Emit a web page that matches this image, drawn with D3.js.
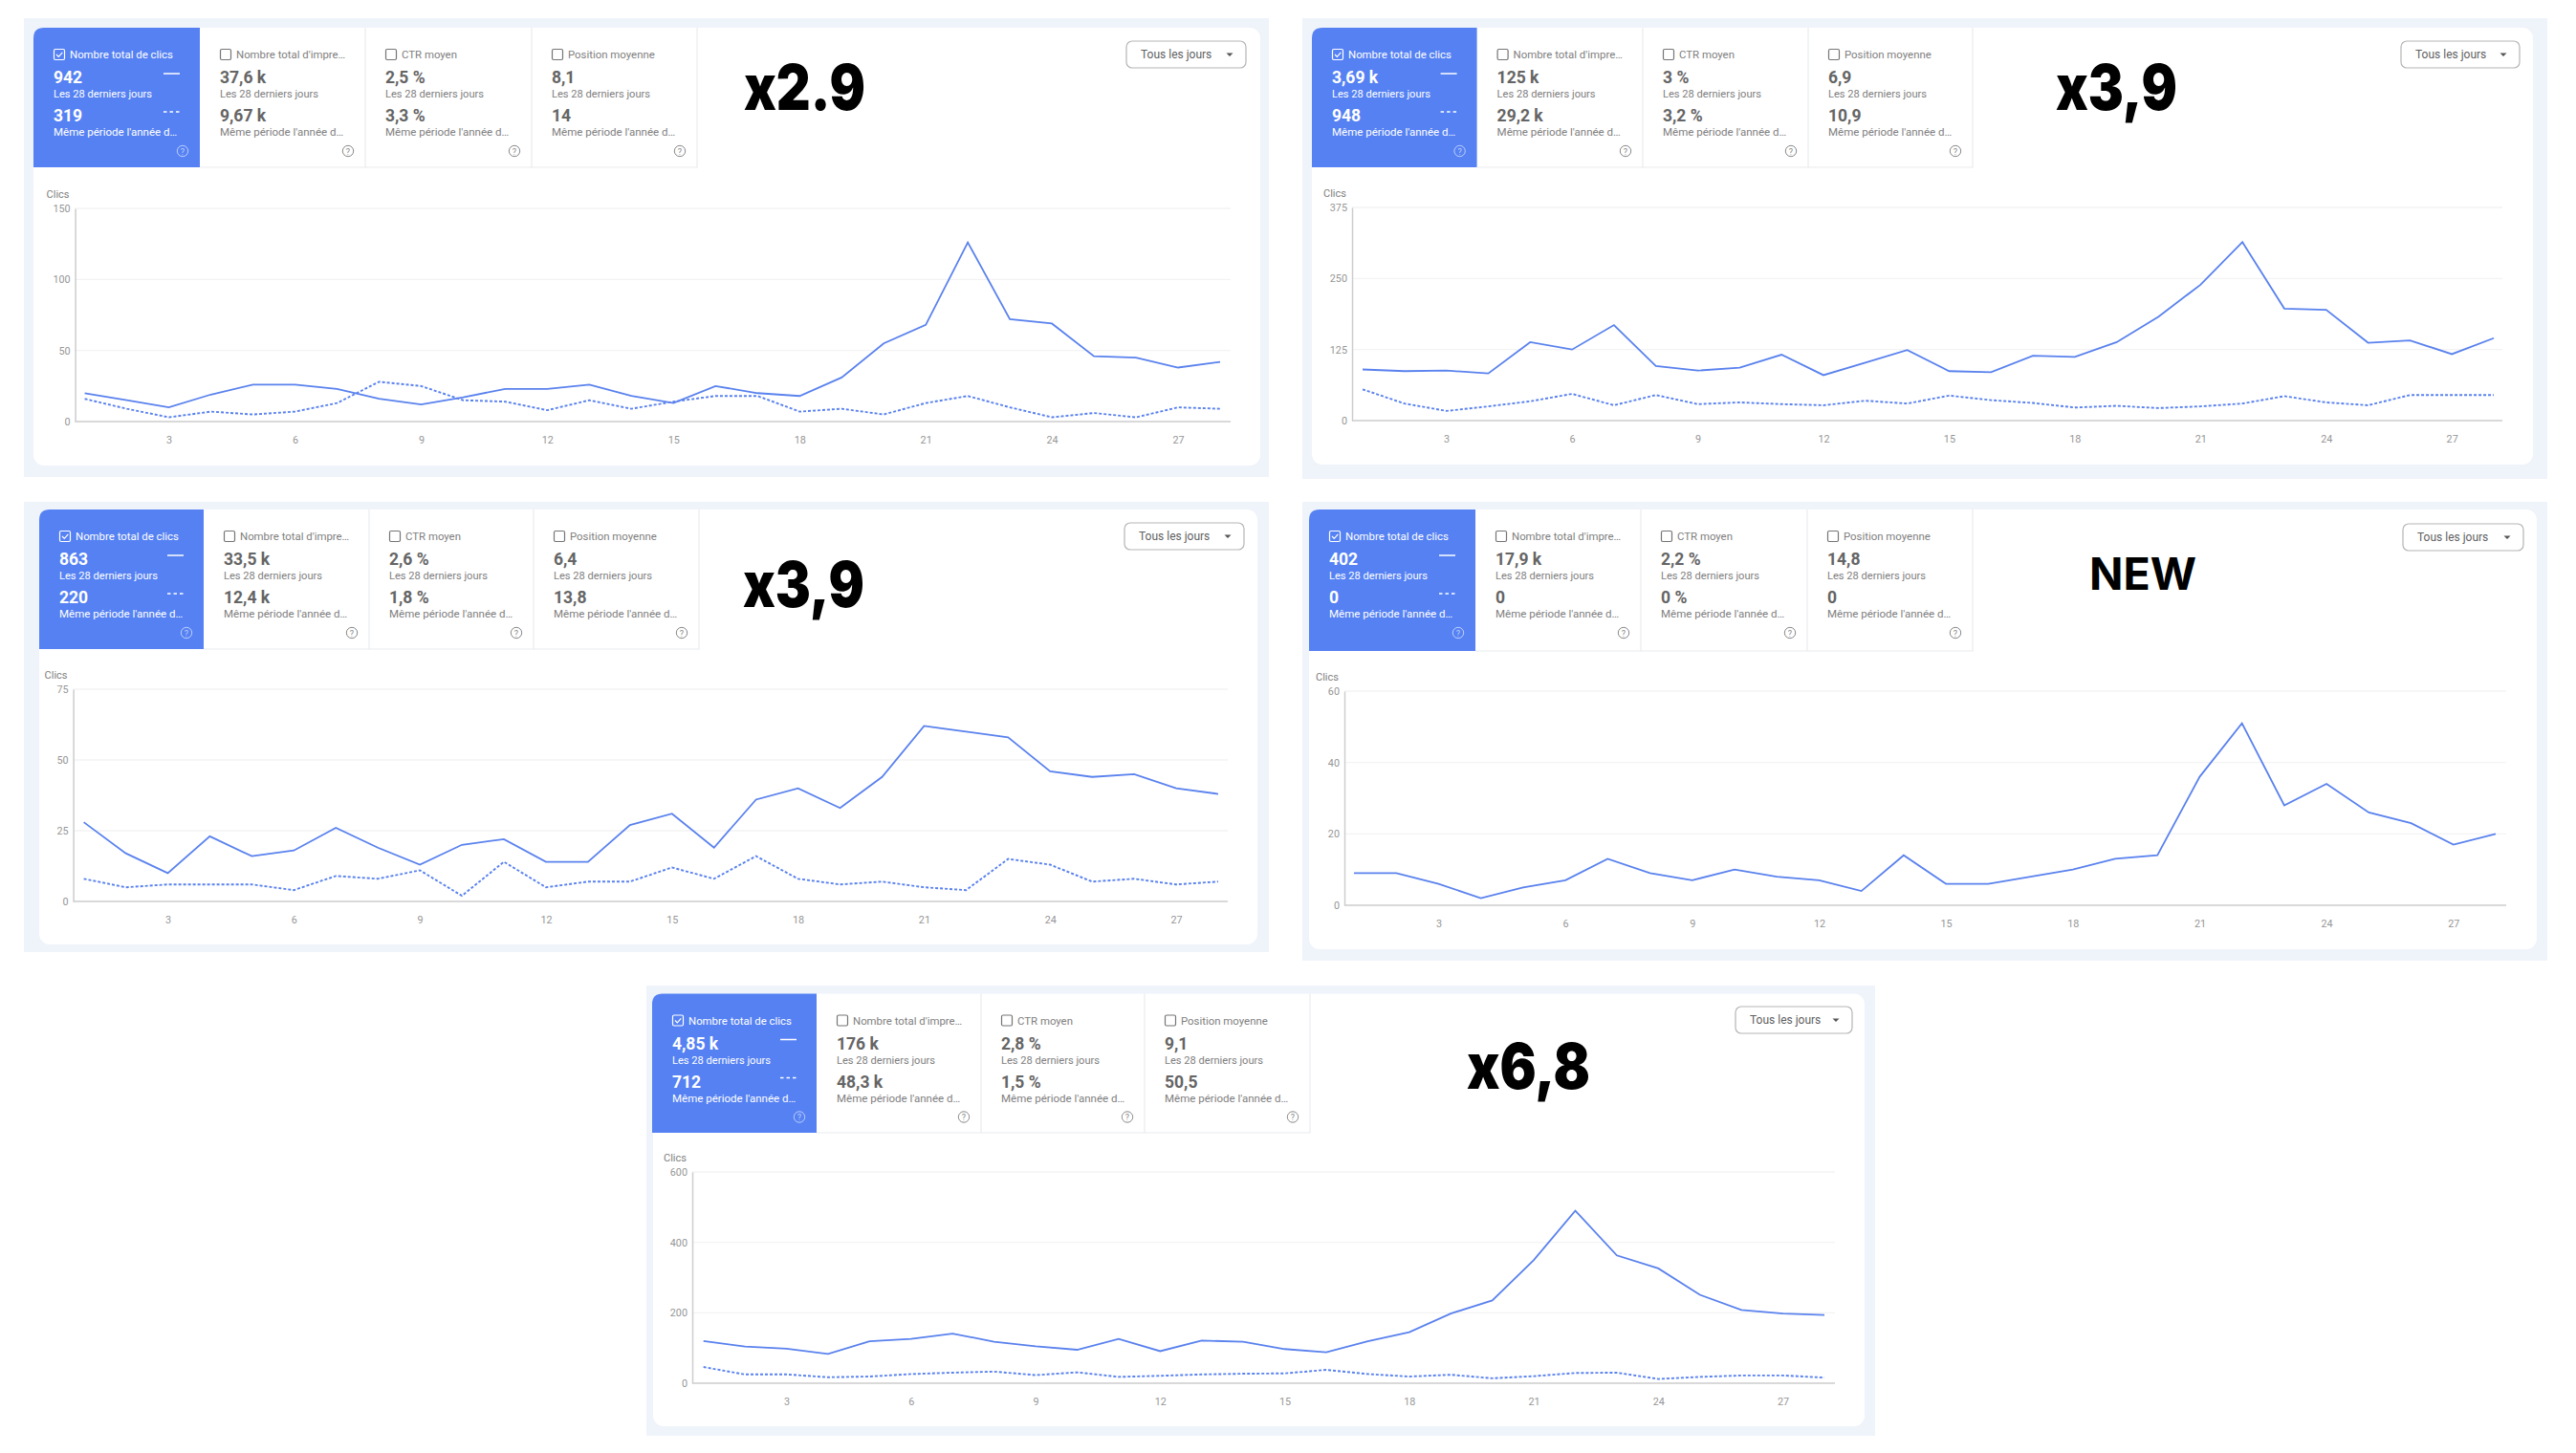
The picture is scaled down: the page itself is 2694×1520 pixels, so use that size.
<!DOCTYPE html>
<html lang="fr">
<head>
<meta charset="utf-8">
<title>Clics</title>
<script src="https://cdn.jsdelivr.net/npm/d3@7"></script>
<style>
  html, body { margin: 0; padding: 0; background: #fff; }
  svg { display: block; font-family: Roboto, sans-serif; }
  .axis text { fill: #969696; font-size: 10.8px; font-family: Roboto, sans-serif; }
  .axis .domain { stroke: #cdcdcd; stroke-width: 1.5; }
  .axis .tick line { display: none; }
  .grid line { stroke: #f3f3f3; stroke-width: 1.3; }
</style>
</head>
<body>
<svg width="2694" height="1520"></svg>
<script>
const days = [1, 2, 3, 4, 5, 6, 7, 8, 9, 10, 11, 12, 13, 14, 15, 16, 17, 18, 19, 20, 21, 22, 23, 24, 25, 26, 27, 28];
const xTicks = [3, 6, 9, 12, 15, 18, 21, 24, 27];
const metricNames = ["Nombre total de clics", "Nombre total d'impre…", "CTR moyen", "Position moyenne"];
const periodNow = "Les 28 derniers jours";
const periodPrev = "Même période l'année d…";
const yLabel = "Clics";
const rangeLabel = "Tous les jours";

const badges = ["x2.9", "x3,9", "x3,9", "NEW", "x6,8"];

const yTicks1 = [0, 50, 100, 150];
const yTicks2 = [0, 125, 250, 375];
const yTicks3 = [0, 25, 50, 75];
const yTicks4 = [0, 20, 40, 60];
const yTicks5 = [0, 200, 400, 600];

const stats1 = [["942", "319"], ["37,6 k", "9,67 k"], ["2,5 %", "3,3 %"], ["8,1", "14"]];
const stats2 = [["3,69 k", "948"], ["125 k", "29,2 k"], ["3 %", "3,2 %"], ["6,9", "10,9"]];
const stats3 = [["863", "220"], ["33,5 k", "12,4 k"], ["2,6 %", "1,8 %"], ["6,4", "13,8"]];
const stats4 = [["402", "0"], ["17,9 k", "0"], ["2,2 %", "0 %"], ["14,8", "0"]];
const stats5 = [["4,85 k", "712"], ["176 k", "48,3 k"], ["2,8 %", "1,5 %"], ["9,1", "50,5"]];

const current1 = [20, 15, 10, 19, 26, 26, 23, 16, 12, 17, 23, 23, 26, 18, 13, 25, 20, 18, 31, 55, 68, 126, 72, 69, 46, 45, 38, 42];
const previous1 = [16, 9, 3, 7, 5, 7, 13, 28, 25, 15, 14, 8, 15, 9, 14, 18, 18, 7, 9, 5, 13, 18, 10, 3, 6, 3, 10, 9];
const current2 = [90, 87, 88, 83, 138, 125, 168, 96, 88, 93, 116, 80, 102, 124, 87, 85, 114, 112, 138, 183, 239, 314, 197, 195, 137, 141, 117, 145];
const previous2 = [55, 30, 17, 25, 34, 47, 27, 45, 29, 32, 29, 27, 35, 30, 44, 36, 31, 23, 26, 22, 25, 30, 43, 32, 27, 45, 45, 45];
const current3 = [28, 17, 10, 23, 16, 18, 26, 19, 13, 20, 22, 14, 14, 27, 31, 19, 36, 40, 33, 44, 62, 60, 58, 46, 44, 45, 40, 38];
const previous3 = [8, 5, 6, 6, 6, 4, 9, 8, 11, 2, 14, 5, 7, 7, 12, 8, 16, 8, 6, 7, 5, 4, 15, 13, 7, 8, 6, 7];
const current4 = [9, 9, 6, 2, 5, 7, 13, 9, 7, 10, 8, 7, 4, 14, 6, 6, 8, 10, 13, 14, 36, 51, 28, 34, 26, 23, 17, 20];
const current5 = [120, 104, 98, 83, 119, 126, 141, 118, 105, 95, 126, 91, 121, 118, 97, 88, 119, 145, 198, 235, 350, 490, 363, 326, 251, 208, 198, 194];
const previous5 = [46, 25, 25, 17, 19, 26, 30, 33, 23, 31, 18, 21, 25, 27, 28, 38, 26, 19, 24, 14, 20, 29, 30, 12, 18, 22, 22, 16];

const blue = "#5581f3", lineBlue = "#5a82ee", pageBg = "#eff3fa";
const valueCol = "#656565", smallCol = "#808080";

// pixel layout of each dashboard screenshot on the collage
const panels = [
  { stats: stats1, current: current1, previous: previous1, yTicks: yTicks1, badge: badges[0],
    bg: [25, 19, 1327, 499], card: [35, 29, 1318, 487], tiles: [35, 209, 382, 556, 729], tileBottom: 175,
    plot: { left: 78.6, right: 1287, top: 218, bottom: 441, day1: 88.6, day28: 1276 },
    drop: [1178, 43, 1303, 71], badgeAt: [778, 115], badgeSize: 66, badgeW: 127, badgeWeight: 900 },
  { stats: stats2, current: current2, previous: previous2, yTicks: yTicks2, badge: badges[1],
    bg: [1362, 19, 2664, 501], card: [1372, 29, 2649, 486], tiles: [1372, 1544.6, 1718, 1891, 2063], tileBottom: 175,
    plot: { left: 1414, right: 2617, top: 217, bottom: 440, day1: 1425, day28: 2608 },
    drop: [2511, 43, 2635, 71], badgeAt: [2150, 115], badgeSize: 66, badgeW: 127, badgeWeight: 900 },
  { stats: stats3, current: current3, previous: previous3, yTicks: yTicks3, badge: badges[2],
    bg: [25, 525, 1327, 996], card: [41, 533, 1315, 988], tiles: [41, 213, 386, 558, 731], tileBottom: 679,
    plot: { left: 76.6, right: 1284, top: 721, bottom: 943, day1: 87.6, day28: 1274 },
    drop: [1176, 547, 1301, 575], badgeAt: [777, 635], badgeSize: 66, badgeW: 127, badgeWeight: 900 },
  { stats: stats4, current: current4, previous: null, yTicks: yTicks4, badge: badges[3],
    bg: [1362, 525, 2664, 1005], card: [1369, 533, 2653, 993], tiles: [1369, 1543, 1716, 1890, 2063], tileBottom: 681,
    plot: { left: 1406, right: 2621, top: 723, bottom: 947, day1: 1416, day28: 2610 },
    drop: [2513, 548, 2639, 576], badgeAt: [2185, 617], badgeSize: 47, badgeW: 112, badgeWeight: 700 },
  { stats: stats5, current: current5, previous: previous5, yTicks: yTicks5, badge: badges[4],
    bg: [676, 1031, 1961, 1502], card: [683, 1039.5, 1950, 1492], tiles: [682, 854, 1026, 1197, 1370], tileBottom: 1185,
    plot: { left: 724, right: 1919, top: 1226, bottom: 1447, day1: 735.7, day28: 1908 },
    drop: [1815, 1053, 1937, 1081], badgeAt: [1534, 1139], badgeSize: 66, badgeW: 129, badgeWeight: 900 }
];

const svg = d3.select("svg");
svg.append("rect").attr("width", 2694).attr("height", 1520).attr("fill", "#fff");

panels.forEach(drawPanel);

function drawPanel(p) {
  const g = svg.append("g");
  const [bx0, by0, bx1, by1] = p.bg, [cx0, cy0, cx1, cy1] = p.card;

  g.append("rect").attr("x", bx0).attr("y", by0).attr("width", bx1 - bx0).attr("height", by1 - by0).attr("fill", pageBg);
  g.append("rect").attr("x", cx0).attr("y", cy0).attr("width", cx1 - cx0).attr("height", cy1 - cy0).attr("rx", 11).attr("fill", "#fff");

  drawTiles(g, p);
  drawDropdown(g, p.drop);

  g.append("text")
    .attr("x", p.badgeAt[0]).attr("y", p.badgeAt[1])
    .attr("font-family", "Inter, sans-serif").attr("font-weight", p.badgeWeight)
    .attr("font-size", p.badgeSize).attr("fill", "#000")
    .attr("textLength", p.badgeW).attr("lengthAdjust", "spacingAndGlyphs")
    .text(p.badge);

  const { left, right, top, bottom, day1, day28 } = p.plot;
  const x = d3.scaleLinear().domain([days[0], days[days.length - 1]]).range([day1, day28]);
  const y = d3.scaleLinear().domain(d3.extent(p.yTicks)).range([bottom, top]);

  g.append("g").attr("class", "grid").selectAll("line")
    .data(p.yTicks.filter((d) => d > 0))
    .enter().append("line")
    .attr("x1", left).attr("x2", right)
    .attr("y1", (d) => y(d)).attr("y2", (d) => y(d));

  g.append("g").attr("class", "axis")
    .attr("transform", `translate(${left},0)`)
    .call(d3.axisLeft(y).tickValues(p.yTicks).tickSize(0).tickPadding(5).tickSizeOuter(0));

  const xAxis = d3.axisBottom(x).tickValues(xTicks).tickSize(0).tickPadding(15).tickSizeOuter(0);
  const xAxisG = g.append("g").attr("class", "axis")
    .attr("transform", `translate(0,${bottom})`)
    .call(xAxis);
  xAxisG.select(".domain").attr("d", `M${left},0H${right}`);

  g.append("text")
    .attr("x", left - 30).attr("y", top - 11)
    .attr("font-size", 11).attr("fill", "#808080")
    .text(yLabel);

  const line = d3.line().x((d, i) => x(days[i])).y((d) => y(d));

  g.append("path").attr("d", line(p.current))
    .attr("fill", "none").attr("stroke", lineBlue).attr("stroke-width", 1.8);
  if (p.previous)
    g.append("path").attr("d", line(p.previous))
      .attr("fill", "none").attr("stroke", lineBlue).attr("stroke-width", 1.9)
      .attr("stroke-dasharray", "3,2");
}

function drawTiles(g, p) {
  const top = p.card[1], bottom = p.tileBottom;

  metricNames.forEach((name, i) => {
    const x0 = p.tiles[i], x1 = p.tiles[i + 1], active = i === 0;
    const tile = g.append("g");

    if (active) {
      // rounded top-left only, as in the screenshot
      tile.append("path")
        .attr("d", `M${x0},${bottom}V${top + 11}Q${x0},${top} ${x0 + 11},${top}H${x1}V${bottom}Z`)
        .attr("fill", blue);
    } else {
      tile.append("path")
        .attr("d", `M${x0},${bottom}H${x1}V${top}`)
        .attr("fill", "none").attr("stroke", "#e9ebee").attr("stroke-width", 1.2);
    }

    const tx = x0 + 21;
    tile.append("rect")
      .attr("x", tx + 0.5).attr("y", top + 22.5).attr("width", 11).attr("height", 11).attr("rx", 1.5)
      .attr("fill", "none").attr("stroke", active ? "#fff" : "#757575").attr("stroke-width", 1.2);
    if (active)
      tile.append("path")
        .attr("d", `M${tx + 3},${top + 28}l2.3,2.4l4,-4.6`)
        .attr("fill", "none").attr("stroke", "#fff").attr("stroke-width", 1.2);

    const label = (str, dx, dy, size, weight, col) =>
      tile.append("text").attr("x", tx + dx).attr("y", top + dy)
        .attr("font-size", size).attr("font-weight", weight).attr("fill", col).text(str);

    label(name, 17, 32, 11.4, 400, active ? "#fff" : smallCol);
    label(p.stats[i][0], 0, 58, 17.5, 700, active ? "#fff" : valueCol);
    label(periodNow, 0, 73, 11.1, 400, active ? "#fff" : smallCol);
    label(p.stats[i][1], 0, 98, 17.5, 700, active ? "#fff" : valueCol);
    label(periodPrev, 0, 113, 11.5, 400, active ? "#fff" : smallCol);

    if (active) {
      tile.append("line").attr("x1", x1 - 38).attr("x2", x1 - 21)
        .attr("y1", top + 48).attr("y2", top + 48)
        .attr("stroke", "#fff").attr("stroke-width", 1.5);
      tile.append("line").attr("x1", x1 - 38).attr("x2", x1 - 21)
        .attr("y1", top + 88).attr("y2", top + 88)
        .attr("stroke", "#fff").attr("stroke-width", 1.5).attr("stroke-dasharray", "3.5,3");
    }

    // help icon
    const iconCol = active ? "rgba(255,255,255,0.6)" : "#8a8a8a";
    tile.append("circle").attr("cx", x1 - 18).attr("cy", top + 129).attr("r", 5.7)
      .attr("fill", "none").attr("stroke", iconCol).attr("stroke-width", 1);
    tile.append("text").attr("x", x1 - 18).attr("y", top + 132.5)
      .attr("text-anchor", "middle").attr("font-size", 9).attr("fill", iconCol).text("?");
  });
}

function drawDropdown(g, [x0, y0, x1, y1]) {
  g.append("rect").attr("x", x0).attr("y", y0).attr("width", x1 - x0).attr("height", y1 - y0).attr("rx", 6)
    .attr("fill", "#fff").attr("stroke", "#b5b5b5").attr("stroke-width", 1.2);
  g.append("text").attr("x", x0 + 15).attr("y", (y0 + y1) / 2 + 4)
    .attr("font-size", 12).attr("fill", "#5f5f5f").text(rangeLabel);
  const ax = x1 - 17, ay = (y0 + y1) / 2 - 1.5;
  g.append("path").attr("d", `M${ax - 3.5},${ay}h7l-3.5,3.5z`).attr("fill", "#555");
}
</script>
</body>
</html>
